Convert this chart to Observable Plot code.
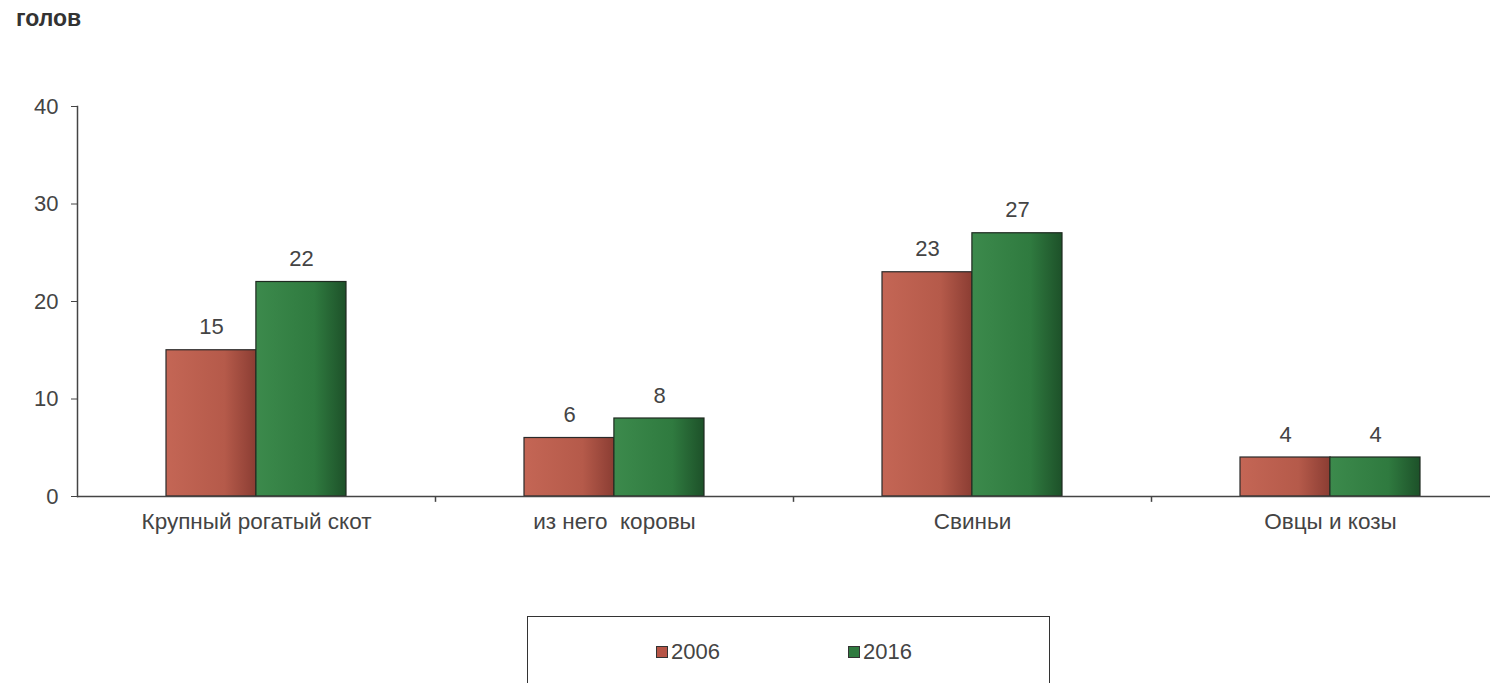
<!DOCTYPE html>
<html>
<head>
<meta charset="utf-8">
<script src="https://cdn.jsdelivr.net/npm/d3@7"></script>
<script src="https://cdn.jsdelivr.net/npm/@observablehq/plot@0.6"></script>
<style>
  body { margin: 0; background: #fff; font-family: "Liberation Sans", Arial, sans-serif; }
  #unit { height: 60px; position: relative; }
  #unit span { position: absolute; left: 16px; top: 7px; font-size: 23px; line-height: 1; color: #333; font-weight: 700; }
  #chart svg { display: block; }
  #legend { position: relative; margin-left: 527px; width: 523px; height: 80px; border: 1.5px solid #333; box-sizing: border-box; }
  .li { position: absolute; top: 22px; font-size: 22px; color: #444; display: flex; align-items: center; }
  .sw { width: 10px; height: 10px; border: 1px solid #333; margin-right: 3px; }
</style>
</head>
<body>
<div id="unit"><span>голов</span></div>
<div id="chart"></div>
<div id="legend"></div>
<script>
const categories = ["Крупный рогатый скот", "из него  коровы", "Свиньи", "Овцы и козы"];
const years = ["2006", "2016"];
const values2006 = [15, 6, 23, 4];
const values2016 = [22, 8, 27, 4];
const yTicks = [0, 10, 20, 30, 40];
const colors = {"2006": "#b65446", "2016": "#2f7a3f"};

const d2006 = categories.map((c, i) => ({cat: c, year: "2006", value: values2006[i]}));
const d2016 = categories.map((c, i) => ({cat: c, year: "2016", value: values2016[i]}));

const chart = Plot.plot({
  width: 1495,
  height: 556,
  marginLeft: 77,
  marginRight: 5,
  marginTop: 46,
  marginBottom: 120,
  style: {fontFamily: "'Liberation Sans', Arial, sans-serif", fontSize: "22px", color: "#444", background: "#fff"},
  x: {domain: categories, range: [77, 1509], paddingInner: 0.497, paddingOuter: 0.2485, label: null},
  y: {domain: [0, 40], label: null},
  marks: [
    Plot.axisY({ticks: yTicks, tickSize: 6, tickPadding: 13, stroke: "#444", fill: "#444", fontSize: 22, label: null}),
    Plot.axisX({tickSize: 0, tickPadding: 17, fill: "#444", fontSize: 22.5, label: null}),
    Plot.barY(d2006, {x: "cat", y: "value", fill: "url(#g2006)", stroke: "#2a2a2a", strokeWidth: 1.2, insetRight: 89.9}),
    Plot.barY(d2016, {x: "cat", y: "value", fill: "url(#g2016)", stroke: "#1e2a20", strokeWidth: 1.2, insetLeft: 89.9}),
    Plot.text(d2006, {x: "cat", y: "value", text: d => String(d.value), dx: -45, dy: -23, fill: "#444", fontSize: 22}),
    Plot.text(d2016, {x: "cat", y: "value", text: d => String(d.value), dx: 45, dy: -23, fill: "#444", fontSize: 22}),
    Plot.ruleX(categories.slice(0, 3), {x: d => d, y1: 0, y2: -0.6, dx: 179, stroke: "#444", strokeWidth: 1.5}),
    Plot.frame({anchor: "left", stroke: "#444", strokeWidth: 1.5}),
    Plot.ruleY([0], {stroke: "#444", strokeWidth: 1.5})
  ]
});

// gradients for the bars
const svg = d3.select(chart);
const defs = svg.insert("defs", ":first-child");
const grads = {
  g2006: ["#c46655", "#b55a4a", "#8b3d33"],
  g2016: ["#3c8a4c", "#2f7a3f", "#1d5129"]
};
for (const [id, stops] of Object.entries(grads)) {
  const g = defs.append("linearGradient").attr("id", id).attr("x1", "0").attr("x2", "1").attr("y1", "0").attr("y2", "0");
  g.append("stop").attr("offset", "0%").attr("stop-color", stops[0]);
  g.append("stop").attr("offset", "65%").attr("stop-color", stops[1]);
  g.append("stop").attr("offset", "100%").attr("stop-color", stops[2]);
}
document.getElementById("chart").appendChild(chart);

// legend
const legend = document.getElementById("legend");
const legendPos = {"2006": 128, "2016": 320};
for (const y of years) {
  const item = document.createElement("div");
  item.className = "li";
  item.style.left = legendPos[y] + "px";
  item.innerHTML = `<span class="sw" style="background:${colors[y]}"></span><span>${y}</span>`;
  legend.appendChild(item);
}
</script>
</body>
</html>
